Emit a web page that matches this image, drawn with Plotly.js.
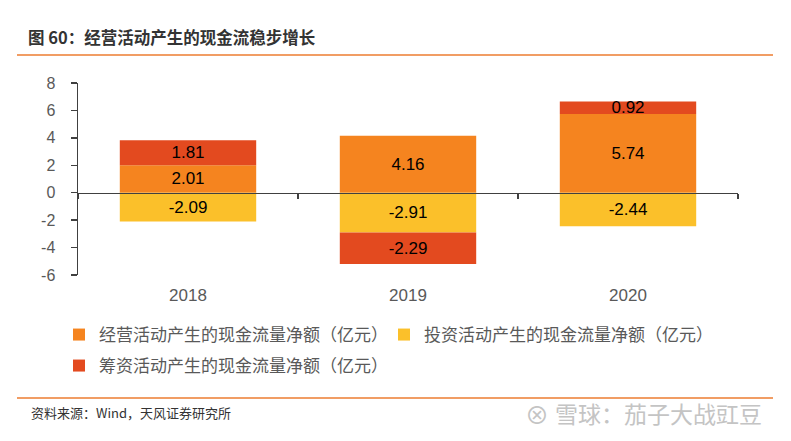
<!DOCTYPE html>
<html><head><meta charset="utf-8">
<script src="https://cdn.plot.ly/plotly-3.0.1.min.js"></script>
<style>html,body{margin:0;padding:0;background:#fff;}#chart{width:791px;height:441px;}</style>
</head><body><div id="chart"></div>
<script>
const years = ['2018', '2019', '2020'];
const operating = [2.01, 4.16, 5.74];
const investing = [-2.09, -2.91, -2.44];
const financing = [1.81, -2.29, 0.92];
const seriesNames = ['经营活动产生的现金流量净额（亿元）', '投资活动产生的现金流量净额（亿元）', '筹资活动产生的现金流量净额（亿元）'];
const seriesColors = ['#F5841F', '#FBC02A', '#E34A1F'];
const yTickVals = [-6, -4, -2, 0, 2, 4, 6, 8];
const titleText = '<b>图 60：经营活动产生的现金流稳步增长</b>';
const sourceText = '资料来源：Wind，天风证券研究所';
const watermarkText = '雪球：茄子大战豇豆';

const W = 791, H = 441;
const M = {l: 78, r: 53, t: 83, b: 166};
const pw = W - M.l - M.r, ph = H - M.t - M.b;
const px = x => (x - M.l) / pw;
const py = y => (H - M.b - y) / ph;

const FONT = '"Liberation Sans", Arial, "Noto Sans CJK SC", sans-serif';
const CJK = '"Noto Sans CJK SC", "Liberation Sans", sans-serif';

function barTrace(name, vals, color, legend) {
  return {
    type: 'bar', name: name, x: years, y: vals,
    marker: {color: color, line: {width: 0}},
    texttemplate: '%{y:.2f}', textposition: 'inside', insidetextanchor: 'middle',
    constraintext: 'none',
    textfont: {family: FONT, size: 17, color: '#000000'},
    hoverinfo: 'skip', legend: legend
  };
}

const data = [
  barTrace(seriesNames[0], operating, seriesColors[0], 'legend'),
  barTrace(seriesNames[1], investing, seriesColors[1], 'legend'),
  barTrace(seriesNames[2], financing, seriesColors[2], 'legend2'),
  {type: 'scatter', mode: 'markers', x: years, y: years.map(() => null), xaxis: 'x2', yaxis: 'y',
   showlegend: false, hoverinfo: 'skip', marker: {opacity: 0}}
];

const legendCommon = {
  orientation: 'h', xanchor: 'left', yanchor: 'middle',
  font: {family: CJK, size: 17, color: '#595959'},
  bgcolor: 'rgba(0,0,0,0)', borderwidth: 0, traceorder: 'normal'
};

const layout = {
  width: W, height: H,
  margin: M,
  paper_bgcolor: '#ffffff', plot_bgcolor: '#ffffff',
  barmode: 'relative', bargap: 0.38,
  showlegend: true,
  title: {text: titleText, xref: 'container', yref: 'container', x: 28 / W, y: 1 - 38.5 / H,
          xanchor: 'left', yanchor: 'middle', font: {family: CJK, size: 16.5, color: '#333333'}},
  xaxis: {type: 'category', categoryarray: years, range: [-0.5, 2.5], showline: false, ticks: '',
          showgrid: false, zeroline: false, tickfont: {family: FONT, size: 17, color: '#595959'},
          ticklabelstandoff: 8, fixedrange: true},
  xaxis2: {type: 'category', categoryarray: years, range: [-0.5, 2.5], overlaying: 'x', anchor: 'free',
           position: py(192.7), showline: true, linecolor: '#404040', linewidth: 1.5,
           ticks: 'outside', tickson: 'boundaries', ticklen: 5, tickwidth: 1.5, tickcolor: '#404040',
           showticklabels: false, showgrid: false, zeroline: false, layer: 'above traces'},
  yaxis: {range: [-6, 8], tickvals: yTickVals, ticktext: yTickVals.map(String), showline: true,
          linecolor: '#404040', linewidth: 1.5, ticks: 'outside', ticklen: 6, tickwidth: 1.5,
          tickcolor: '#404040', showgrid: false, zeroline: false,
          tickfont: {family: FONT, size: 16, color: '#595959'}, ticklabelstandoff: 12, fixedrange: true},
  legend: Object.assign({}, legendCommon, {x: px(59), y: py(335), entrywidth: 280, entrywidthmode: 'pixels'}),
  legend2: Object.assign({}, legendCommon, {x: px(59), y: py(366)}),
  shapes: [
    {type: 'line', xref: 'paper', yref: 'paper', x0: px(17), x1: px(773), y0: py(55), y1: py(55),
     line: {color: '#ED7D31', width: 1.5}},
    {type: 'line', xref: 'paper', yref: 'paper', x0: px(17), x1: px(773), y0: py(398), y1: py(398),
     line: {color: '#ED7D31', width: 1.5}}
  ],
  annotations: [
    {text: sourceText, xref: 'paper', yref: 'paper', x: px(29), y: py(412), xanchor: 'left', yanchor: 'middle',
     showarrow: false, font: {family: CJK, size: 13, color: '#333333'}},
    {text: '⊗', xref: 'paper', yref: 'paper', x: px(523), y: py(413), xanchor: 'left', yanchor: 'middle',
     showarrow: false, font: {family: CJK, size: 24, color: '#c4c4c4'}},
    {text: watermarkText, xref: 'paper', yref: 'paper', x: px(553), y: py(413), xanchor: 'left', yanchor: 'middle',
     showarrow: false, font: {family: CJK, size: 23, color: '#c4c4c4'}}
  ]
};

Plotly.newPlot('chart', data, layout, {staticPlot: true, displayModeBar: false});
</script>
</body></html>
